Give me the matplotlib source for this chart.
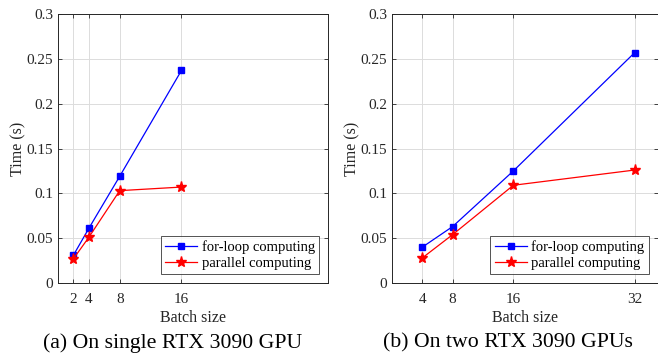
import matplotlib
matplotlib.use("Agg")
import matplotlib.pyplot as plt

plt.rcParams['font.family'] = ['Liberation Serif', 'DejaVu Serif']

# (a) single GPU
batch_a = [2, 4, 8, 16]
loop_a = [0.031, 0.061, 0.119, 0.237]
par_a = [0.027, 0.051, 0.103, 0.107]

# (b) two GPUs
batch_b = [4, 8, 16, 32]
loop_b = [0.040, 0.063, 0.125, 0.257]
par_b = [0.028, 0.054, 0.109, 0.126]

captions = ['(a) On single RTX 3090 GPU', '(b) On two RTX 3090 GPUs']

fig = plt.figure(figsize=(6.58, 3.56), dpi=100)
ax1 = fig.add_axes([58/658, 73/356, 270/658, 269/356])
ax2 = fig.add_axes([392/658, 73/356, 265.5/658, 269/356])

txt = '#262626'
for ax, bx, lp, pr in [(ax1, batch_a, loop_a, par_a),
                        (ax2, batch_b, loop_b, par_b)]:
    ax.plot(bx, lp, color='blue', lw=0.9, marker='s', ms=5, label='for-loop computing')
    ax.plot(bx, pr, color='red', lw=0.9, marker='*', ms=8, label='parallel computing')
    ax.set_xlim(0, 35)
    ax.set_ylim(0, 0.3)
    ax.set_xticks(bx)
    ax.set_yticks([0, 0.05, 0.1, 0.15, 0.2, 0.25, 0.3])
    ax.set_yticklabels(['0', '0.05', '0.1', '0.15', '0.2', '0.25', '0.3'])
    ax.grid(True, color='#dcdcdc', lw=0.7)
    ax.set_axisbelow(True)
    ax.tick_params(direction='in', length=3, width=0.6, labelsize=11, colors=txt,
                   top=True, right=True)
    ax.tick_params(axis='x', pad=7)
    for s in ax.spines.values():
        s.set_color(txt)
        s.set_linewidth(0.7)
    ax.set_xlabel('Batch size', fontsize=11.5, color=txt, labelpad=3)
    ax.set_ylabel('Time (s)', fontsize=11.5, color=txt, labelpad=0)
    leg = ax.legend(loc='lower right', fontsize=10.5, frameon=True, fancybox=False,
                    edgecolor='#262626', borderpad=0.3, handlelength=2.2,
                    handletextpad=0.3, labelspacing=0.2, borderaxespad=0.6)
    leg.get_frame().set_linewidth(0.7)

# sub-figure captions
fig.text(173/658, 1 - 343/356, captions[0], ha='center', va='center', fontsize=15.7)
fig.text(508/658, 1 - 343/356, captions[1], ha='center', va='center', fontsize=15.7)

fig.savefig('out.png', dpi=100)
